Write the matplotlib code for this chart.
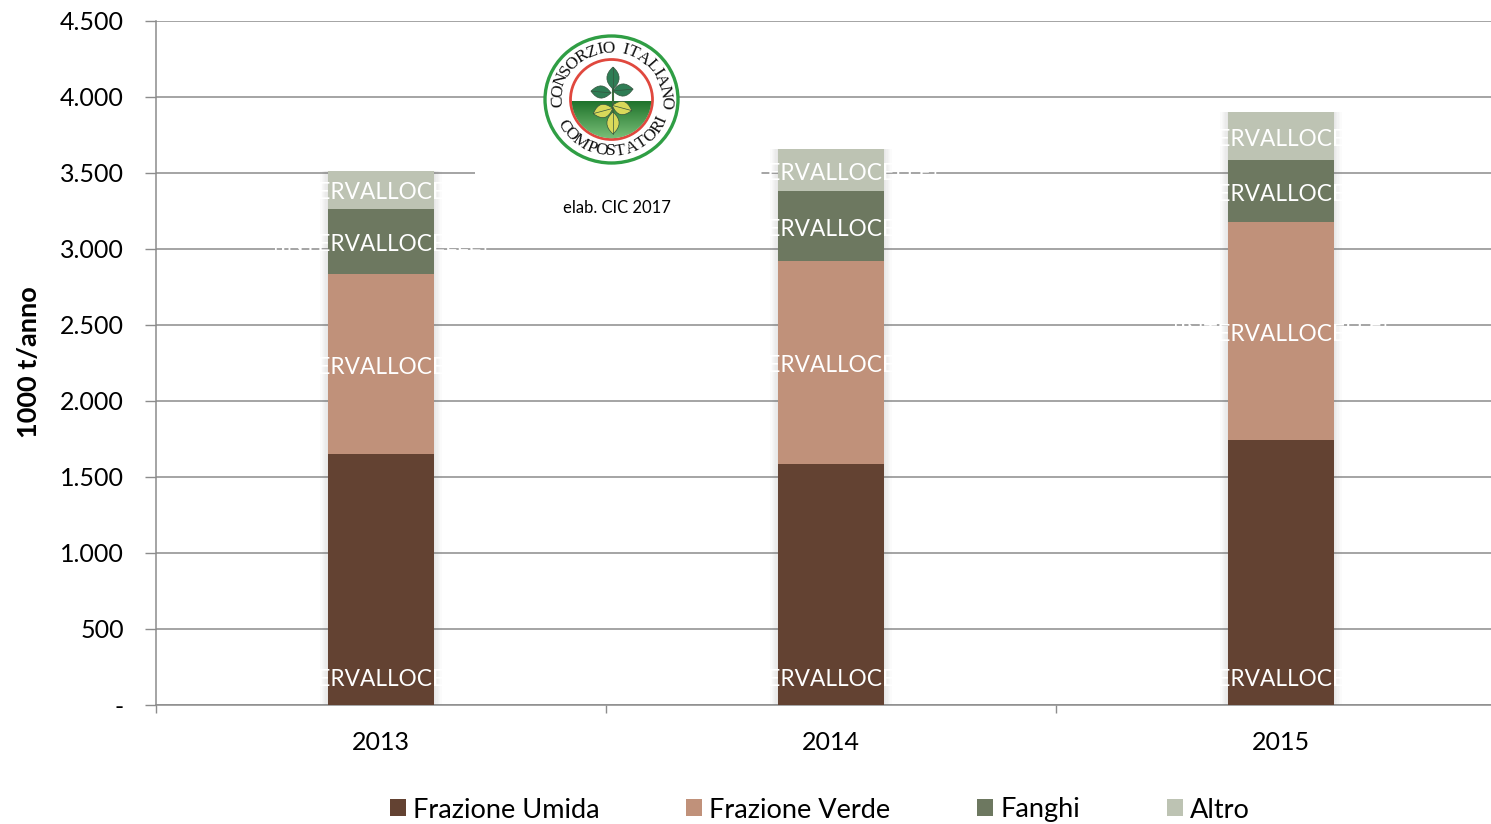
import numpy as np
import matplotlib
matplotlib.use("Agg")
import matplotlib.pyplot as plt
from matplotlib.patches import Ellipse, Rectangle
from matplotlib.path import Path
from matplotlib.patches import PathPatch
from matplotlib.textpath import TextPath
from matplotlib.font_manager import FontProperties

years = ["2013", "2014", "2015"]
series_names = ["Frazione Umida", "Frazione Verde", "Fanghi", "Altro"]
umida = [1651, 1585, 1743]
verde = [1185, 1336, 1435]
fanghi = [430, 461, 407]
altro = [247, 276, 316]
colors = ["#634232", "#c0917a", "#6d7860", "#bdc3b3"]
yticks = [0, 500, 1000, 1500, 2000, 2500, 3000, 3500, 4000, 4500]
yticklabels = ["-", "500", "1.000", "1.500", "2.000", "2.500", "3.000", "3.500", "4.000", "4.500"]
cell_label = "[INTERVALLOCELLE]"

W, H = 1491, 824
L = 156.0
FONT = "Lato"
plt.rcParams["font.family"] = [FONT, "DejaVu Sans"]
fig = plt.figure(figsize=(W / 100, H / 100), dpi=100, facecolor="white")
ax = fig.add_axes([L / W, 1 - 705 / H, (W - L) / W, 684 / H])

x = np.arange(len(years))
width = 0.2356
bottom = np.zeros(3)
stack = [umida, verde, fanghi, altro]
total = np.sum(stack, axis=0)
# soft shadow around the columns
for extra in [0.034, 0.028, 0.022, 0.016, 0.011, 0.006]:
    ax.bar(x, total, width + extra, color="#555555", alpha=0.022, linewidth=0, zorder=2)
for vals, col, name in zip(stack, colors, series_names):
    ax.bar(x, vals, width, bottom=bottom, color=col, label=name, linewidth=0, zorder=3)
    for xi, b, v in zip(x, bottom, vals):
        ypos = 172 if name == series_names[0] else b + v / 2 - 18
        ax.text(xi, ypos, cell_label, color="white", ha="center", va="center",
                fontsize=16.3, zorder=6)
    bottom = bottom + np.array(vals)

ax.set_xlim(-0.5, 2.467)
ax.set_ylim(0, 4500)
ax.set_yticks(yticks)
ax.set_yticklabels(yticklabels, fontsize=18, color="black")
ax.set_xticks(x)
ax.set_xticklabels(years, fontsize=18, color="black")
ax.set_xticks([-0.5, 0.5, 1.5], minor=True)
ax.tick_params(axis="x", which="major", length=0, pad=18.5)
ax.tick_params(axis="x", which="minor", length=6, width=1, color="#8c8c8c")
ax.tick_params(axis="y", length=8, width=1, color="#8c8c8c", pad=15)
ax.grid(axis="y", color="#8c8c8c", linewidth=1.1, zorder=1)
ax.set_axisbelow(True)
for s in ["top", "right"]:
    ax.spines[s].set_visible(False)
for s in ["left", "bottom"]:
    ax.spines[s].set_color("#8c8c8c")
    ax.spines[s].set_linewidth(1.1)
ax.set_ylabel("1000 t/anno", fontsize=19.5, fontweight="bold", labelpad=0)
ax.yaxis.set_label_coords((41 - L) / (W - L), (705 - 362) / 684)

leg = ax.legend(loc="center left", bbox_to_anchor=((390 - L) / (W - L), (705 - 810) / 684),
                ncol=4, frameon=False, fontsize=19.5, handlelength=0.59, handleheight=0.59,
                handletextpad=0.26, columnspacing=3.2, borderaxespad=0, borderpad=0)

# overlay in pixel coordinates for the logo block
ov = fig.add_axes([0, 0, 1, 1], facecolor="none")
ov.set_xlim(0, W)
ov.set_ylim(H, 0)
ov.axis("off")
ov.set_autoscale_on(False)
ov.add_patch(Rectangle((475, 165), 285, 16, fc="white", ec="none", zorder=1))
ov.add_patch(Rectangle((545, 35), 134, 130, fc="white", ec="none", zorder=1))

cx, cy = 611.5, 99.5
ov.add_patch(Ellipse((cx, cy), 133, 127, fc="white", ec="#2f9e44", lw=2.4, zorder=2))
ov.add_patch(Ellipse((cx, cy), 82, 80, fc="white", ec="#e0483e", lw=2.0, zorder=3))
grad = np.linspace(0, 1, 64)[:, None]
c0, c1 = np.array([0x1f, 0x73, 0x2c]) / 255, np.array([0x7a, 0xc0, 0x78]) / 255
img = (c0[None, None, :] * (1 - grad[..., None]) + c1[None, None, :] * grad[..., None])
im = ov.imshow(img, extent=(cx - 40, cx + 40, cy + 39, cy + 1.5), aspect="auto", zorder=4, interpolation="bilinear")
clip = Ellipse((cx, cy), 79.5, 77.5, transform=ov.transData, fc="none", ec="none")
im.set_clip_path(clip)
ov.set_xlim(0, W)
ov.set_ylim(H, 0)

ov.plot([613, 613], [84, 118], color="#3d6b3d", lw=1.5, zorder=5)


def leaf(ex, ey, length, breadth, ang, col):
    t = np.deg2rad(ang)
    u = np.array([np.cos(t), np.sin(t)])
    v = np.array([-u[1], u[0]])
    c = np.array([ex, ey], dtype=float)
    verts = [c - u * length / 2, c - u * length / 6 + v * breadth / 1.35, c + u * length / 6 + v * breadth / 1.35,
             c + u * length / 2, c + u * length / 6 - v * breadth / 1.35, c - u * length / 6 - v * breadth / 1.35,
             c - u * length / 2]
    codes = [Path.MOVETO, Path.CURVE4, Path.CURVE4, Path.CURVE4, Path.CURVE4, Path.CURVE4, Path.CURVE4]
    ov.add_patch(PathPatch(Path(verts, codes), fc=col, ec="#35553f", lw=0.5, zorder=6))
    ov.plot(*zip(c - u * length / 2, c + u * length / 2), color="#35553f", lw=0.5, zorder=7)


for args in [(613, 78, 22, 11, 90, "#2f7d55"), (601, 92, 20, 11, 5, "#2f7d55"), (623, 90, 20, 11, -5, "#2f7d55"),
             (603, 111, 20, 12, -15, "#d9d95a"), (622, 108, 20, 12, 15, "#d9d95a"), (613, 123, 22, 11, 90, "#d9d95a")]:
    leaf(*args)

fp = FontProperties(family="Liberation Serif", size=12.5)


def arc_text(s, a0, a1, rx, ry, top=True):
    ws = np.array([TextPath((0, 0), c if c != " " else "n", prop=fp).get_extents().width + 2.0 for c in s])
    ws[np.array(list(s)) == " "] *= 0.8
    ws = ws / ws.sum()
    pos = np.cumsum(ws) - ws / 2
    for c, p in zip(s, pos):
        a = a0 + (a1 - a0) * p
        rad = np.deg2rad(a)
        px, py = cx + rx * np.cos(rad), cy - ry * np.sin(rad)
        rot = a - 90 if top else a + 90
        ov.text(px, py, c, rotation=rot, rotation_mode="anchor", ha="center", va="center",
                fontproperties=fp, color="#111111", zorder=7)


arc_text("CONSORZIO ITALIANO", 188, -10, 54, 51, top=True)
arc_text("COMPOSTATORI", 205, 340, 55, 52, top=False)

ov.text(617, 208, "elab. CIC 2017", ha="center", va="center", fontsize=12, color="black", zorder=7)

fig.savefig("out.png", dpi=100, facecolor="white")
